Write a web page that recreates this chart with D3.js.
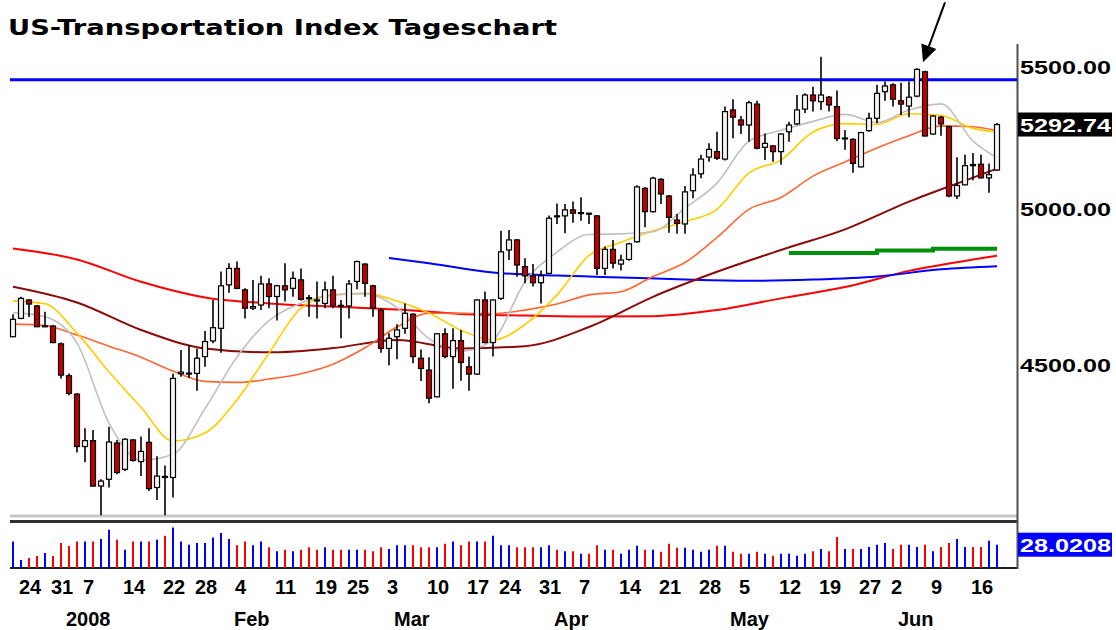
<!DOCTYPE html>
<html><head><meta charset="utf-8">
<script src="https://cdn.jsdelivr.net/npm/d3@7"></script>
<style>body{margin:0;background:#fff}svg{display:block}</style>
</head><body><svg id="c" width="1116" height="630"></svg>
<script>
const title = "US-Transportation Index Tageschart";
const dates = [
"2007-12-21","2007-12-24","2007-12-26","2007-12-27","2007-12-28","2007-12-31",
"2008-01-02","2008-01-03","2008-01-04","2008-01-07","2008-01-08","2008-01-09","2008-01-10","2008-01-11","2008-01-14","2008-01-15","2008-01-16","2008-01-17","2008-01-18","2008-01-22","2008-01-23","2008-01-24","2008-01-25","2008-01-28","2008-01-29","2008-01-30","2008-01-31",
"2008-02-01","2008-02-04","2008-02-05","2008-02-06","2008-02-07","2008-02-08","2008-02-11","2008-02-12","2008-02-13","2008-02-14","2008-02-15","2008-02-19","2008-02-20","2008-02-21","2008-02-22","2008-02-25","2008-02-26","2008-02-27","2008-02-28","2008-02-29",
"2008-03-03","2008-03-04","2008-03-05","2008-03-06","2008-03-07","2008-03-10","2008-03-11","2008-03-12","2008-03-13","2008-03-14","2008-03-17","2008-03-18","2008-03-19","2008-03-20","2008-03-24","2008-03-25","2008-03-26","2008-03-27","2008-03-28","2008-03-31",
"2008-04-01","2008-04-02","2008-04-03","2008-04-04","2008-04-07","2008-04-08","2008-04-09","2008-04-10","2008-04-11","2008-04-14","2008-04-15","2008-04-16","2008-04-17","2008-04-18","2008-04-21","2008-04-22","2008-04-23","2008-04-24","2008-04-25","2008-04-28","2008-04-29","2008-04-30",
"2008-05-01","2008-05-02","2008-05-05","2008-05-06","2008-05-07","2008-05-08","2008-05-09","2008-05-12","2008-05-13","2008-05-14","2008-05-15","2008-05-16","2008-05-19","2008-05-20","2008-05-21","2008-05-22","2008-05-23","2008-05-27","2008-05-28","2008-05-29","2008-05-30",
"2008-06-02","2008-06-03","2008-06-04","2008-06-05","2008-06-06","2008-06-09","2008-06-10","2008-06-11","2008-06-12","2008-06-13","2008-06-16","2008-06-17","2008-06-18","2008-06-19"];

const open = [4588,4645,4703,4684,4619,4621,4566,4469,4414,4261, 4278,4149,4168,4271,4196,4280,4218,4273,4145,4176,
 4173,4475,4474,4476,4527,4575,4614,4751,4804,4735, 4677,4687,4754,4714,4748,4740,4767,4710,4703,4692,
 4735,4686,4684,4762,4818,4748,4671,4552,4588,4614, 4658,4522,4486,4406,4597,4527,4576,4496,4474,4703,
 4570,4708,4864,4897,4810,4780,4758,4788,4977,4977, 4997,4986,4986,4977,4804,4866,4818,4833,4891,5070,
 4991,5101,5044,4963,4950,5062,5120,5178,5197,5171, 5345,5309,5291,5366,5212,5217,5197,5267,5295,5348,
 5399,5375,5391,5357,5244,5240,5144,5271,5315,5411, 5436,5378,5359,5395,5484,5259,5319,5285,5044,5082,
 5152,5153,5106,5133];
const high = [4658,4713,4706,4687,4666,4624,4570,4476,4417,4314, 4309,4168,4318,4280,4285,4282,4290,4314,4233,4207,
 4476,4547,4562,4552,4606,4703,4794,4821,4826,4740, 4767,4780,4772,4751,4821,4794,4804,4719,4762,4762,
 4780,4703,4767,4830,4821,4751,4677,4599,4627,4692, 4661,4549,4525,4599,4614,4614,4609,4527,4705,4730,
 4705,4927,4930,4900,4837,4818,4797,4978,5019,5017, 5025,5040,4987,4980,4875,4897,4848,4888,5081,5075,
 5110,5105,5047,4983,5078,5139,5186,5226,5267,5357, 5384,5323,5378,5378,5261,5220,5261,5303,5399,5405,
 5429,5540,5395,5415,5273,5244,5267,5335,5436,5448, 5442,5444,5448,5497,5488,5327,5323,5288,5177,5186,
 5192,5186,5156,5298];
const low = [4586,4642,4649,4618,4617,4568,4461,4411,4244,4216, 4148,4068,4145,4182,4191,4218,4177,4135,4110,4068,
 4117,4466,4462,4424,4496,4568,4539,4726,4737,4645, 4671,4671,4677,4638,4698,4713,4701,4650,4645,4677,
 4677,4583,4645,4737,4713,4650,4539,4501,4519,4597, 4507,4453,4387,4405,4522,4430,4454,4424,4471,4568,
 4527,4703,4831,4777,4756,4746,4692,4786,4950,4919, 4954,4961,4950,4783,4783,4804,4797,4829,4888,4939,
 4988,5017,4921,4917,4917,5036,5105,5162,5168,5166, 5244,5259,5232,5205,5168,5162,5151,5232,5291,5334,
 5339,5345,5339,5233,5204,5124,5142,5267,5297,5378, 5357,5327,5319,5391,5250,5256,5253,5040,5034,5081,
 5098,5104,5055,5130];
const close = [4642,4708,4690,4619,4622,4570,4471,4416,4261,4278, 4149,4163,4274,4187,4282,4221,4247,4142,4177,4173,
 4461,4480,4477,4522,4573,4616,4748,4804,4740,4677, 4682,4754,4714,4748,4735,4772,4705,4708,4701,4735,
 4684,4684,4754,4826,4756,4677,4552,4583,4609,4661, 4527,4491,4402,4597,4527,4576,4509,4474,4703,4570,
 4703,4858,4897,4815,4780,4758,4780,4969,4974,4997, 4986,4988,4985,4804,4866,4821,4831,4884,5075,4991,
 5105,5051,4972,4952,5058,5116,5171,5205,5174,5339, 5319,5291,5371,5209,5226,5197,5259,5291,5345,5399,
 5378,5399,5363,5243,5245,5156,5264,5315,5405,5432, 5384,5366,5391,5493,5252,5323,5295,5044,5080,5148,
 5148,5106,5117,5292.74];
const volume = [32,9.6,12,14.4,18,14.4,30,26.4,32,32, 32,34.8,46,34,22,32,32,32,34,38.8,
 48.8,32,28,30,30,36.8,42,34.8,27.2,32, 27.2,32,24.8,20,22,20,22,24.8,22,24.8,
 22,22,22,22,22,20,24.8,22.8,27.2,27.2, 27.2,24.8,24.8,24.8,29.2,32,27.2,32,32,32,
 38.8,27.2,27.2,24.8,24.8,24.8,24.8,27.2,22,20, 20,17.2,17.2,27.2,22,22,17.2,22,26.8,22,
 22,19.6,29.2,24.4,24.4,22,19.6,22,26.8,26.8, 19.6,17.2,17.2,19.6,17.2,14.8,17.2,17.2,14.8,17.2,
 20,22.8,20,37.2,22.8,22.8,22.8,25.2,28,30, 22.8,28,28,25.2,28,20,25.2,30,34.8,25.2,
 25.2,25.2,32.8,28.0208];

const fastIdx = [0,4,8,12,16,20,24,28,32,36,40,44,48,52,56,60,64,68,72,76,80,84,88,92,96,100,104,108,112,116,120,123];
const maGray   = [4663,4650,4568,4329,4222,4239,4371,4526,4638,4693,4719,4723,4679,4582,4543,4578,4761,4857,4915,4917,4924,5003,5088,5234,5272,5304,5329,5300,5345,5367,5234,5175];
const maYellow = [4700,4691,4599,4481,4375,4277,4300,4397,4538,4677,4719,4724,4700,4662,4608,4578,4626,4719,4846,4889,4927,4958,4999,5123,5168,5266,5296,5293,5331,5325,5279,5266];
const maOrange = [4627,4623,4593,4559,4525,4483,4452,4449,4459,4475,4504,4554,4618,4661,4661,4660,4671,4690,4719,4729,4778,4823,4905,4999,5039,5112,5161,5210,5253,5288,5285,5271];
const slowIdx = [0,8,16,24,32,40,48,56,64,72,80,88,96,104,112,120,123];
const maMaroon = [4745,4695,4609,4552,4540,4553,4578,4552,4559,4618,4713,4793,4864,4932,5025,5107,5138];
const maRed    = [4869,4833,4761,4711,4692,4682,4673,4659,4654,4651,4652,4671,4708,4744,4796,4833,4845];
const blueIdx  = [47,52,60,68,76,84,92,100,108,116,123];
const maBlue   = [4838,4821,4791,4781,4775,4768,4764,4768,4778,4801,4811];
const greenIdx = [97,108,115,123];
const maGreen  = [4854,4862,4868,4868];
const resistance = 5455;
const arrowBar = 113;

const priceTicks = [5500, 5000, 4500];
const weekTicks = ["2007-12-24","2007-12-31","2008-01-07","2008-01-14","2008-01-22","2008-01-28","2008-02-04","2008-02-11","2008-02-19","2008-02-25","2008-03-03","2008-03-10","2008-03-17","2008-03-24","2008-03-31","2008-04-07","2008-04-14","2008-04-21","2008-04-28","2008-05-05","2008-05-12","2008-05-19","2008-05-27","2008-06-02","2008-06-09","2008-06-16"];
const monthTickDates = ["2008-01-02","2008-02-01","2008-03-03","2008-04-01","2008-05-01","2008-06-02"];
const monthTickLabels = ["2008","Feb","Mar","Apr","May","Jun"];

const svg = d3.select("#c");
const x = d3.scalePoint().domain(dates).range([13, 997]);
const y = d3.scaleLog().domain([4063.5, 5572.6]).range([517, 48]);
const yv = d3.scaleLinear().domain([0, 55.3]).range([568, 522]);

svg.append("rect").attr("width",1116).attr("height",630).attr("fill","#ffffff");

// panel frame
svg.append("rect").attr("x",10).attr("y",514.5).attr("width",1007).attr("height",3).attr("fill","#c8c8c8");
svg.append("rect").attr("x",10).attr("y",520).attr("width",1008).attr("height",3).attr("fill","#303030");
svg.append("rect").attr("x",10).attr("y",567).attr("width",1008).attr("height",2).attr("fill","#202020");
svg.append("line").attr("x1",1017.5).attr("x2",1017.5).attr("y1",44).attr("y2",569).attr("stroke","#505050").attr("stroke-width",2);

// moving averages
function maLine(idx, vals, color, w, curve) {
  const pts = idx.map((d,k)=>({i:d, v:vals[k]}));
  svg.append("path").datum(pts)
    .attr("fill","none").attr("stroke",color).attr("stroke-width",w)
    .attr("d", d3.line().x(d=>x(dates[d.i])).y(d=>y(d.v)).curve(curve || d3.curveMonotoneX));
}
maLine(slowIdx, maRed, "#ff0000", 2);
maLine(blueIdx, maBlue, "#0000ff", 2);
maLine(slowIdx, maMaroon, "#8b0a0a", 2);
maLine(fastIdx, maOrange, "#ff6633", 1.6);
maLine(fastIdx, maYellow, "#ffcc00", 1.6);
maLine(fastIdx, maGray, "#c0c0c0", 1.6);
maLine(greenIdx, maGreen, "#00900a", 4, d3.curveStepAfter);

// resistance line
svg.append("line").attr("x1",10).attr("x2",1017).attr("y1",y(resistance)).attr("y2",y(resistance))
  .attr("stroke","#0000ff").attr("stroke-width",3);

// candles
const bars = dates.map((d,i)=>({d, o:open[i], h:high[i], l:low[i], c:close[i], v:volume[i]}));
const g = svg.append("g");
g.selectAll("line.w").data(bars).enter().append("line")
  .attr("x1",b=>x(b.d)).attr("x2",b=>x(b.d))
  .attr("y1",b=>y(b.h)).attr("y2",b=>y(b.l))
  .attr("stroke","#000").attr("stroke-width",1.6);
g.selectAll("rect.b").data(bars).enter().append("rect")
  .attr("x",b=>x(b.d)-2.5).attr("width",5)
  .attr("y",b=>y(Math.max(b.o,b.c)))
  .attr("height",b=>Math.max(1, Math.abs(y(b.o)-y(b.c))))
  .attr("fill",b=>b.c>=b.o ? "#f4f4f4" : "#c00000")
  .attr("stroke","#000").attr("stroke-width",1.2);

// volume
svg.append("g").selectAll("line").data(bars).enter().append("line")
  .attr("x1",b=>x(b.d)).attr("x2",b=>x(b.d))
  .attr("y1",yv(0)).attr("y2",b=>yv(b.v))
  .attr("stroke",b=>b.c>=b.o ? "#0000ff" : "#ff0000").attr("stroke-width",2);

// arrow
const tip = [x(dates[arrowBar])+6, y(high[arrowBar])-6];
const tail = [tip[0]+22, tip[1]-60];
const L = Math.hypot(tail[0]-tip[0], tail[1]-tip[1]);
const ux = (tip[0]-tail[0])/L, uy = (tip[1]-tail[1])/L;
const bc = [tip[0]-17*ux, tip[1]-17*uy];
svg.append("line").attr("x1",tail[0]).attr("y1",tail[1]).attr("x2",bc[0]).attr("y2",bc[1]).attr("stroke","#000").attr("stroke-width",2);
svg.append("path").attr("fill","#000")
  .attr("d",`M${tip[0]},${tip[1]}L${bc[0]+8*(-uy)},${bc[1]+8*ux}L${bc[0]-8*(-uy)},${bc[1]-8*ux}Z`);

// title
svg.append("text").attr("x",8).attr("y",35)
  .attr("font-family","DejaVu Sans").attr("font-weight","bold").attr("font-size",22)
  .attr("textLength",549).attr("lengthAdjust","spacingAndGlyphs").attr("fill","#000").text(title);

// right axis labels
const fmt = d3.format(".2f");
priceTicks.forEach(v=>{
  svg.append("text").attr("x",1020).attr("y",y(v)+7)
    .attr("font-family","Liberation Sans").attr("font-weight","bold").attr("font-size",19)
    .attr("textLength",91).attr("lengthAdjust","spacingAndGlyphs").attr("fill","#000").text(fmt(v));
});
const lastC = close[close.length-1];
svg.append("rect").attr("x",1018).attr("y",y(lastC)-12).attr("width",94).attr("height",24).attr("fill","#000");
svg.append("text").attr("x",1020).attr("y",y(lastC)+7)
  .attr("font-family","Liberation Sans").attr("font-weight","bold").attr("font-size",19)
  .attr("textLength",91).attr("lengthAdjust","spacingAndGlyphs").attr("fill","#fff").text(fmt(lastC));
const lastV = volume[volume.length-1];
svg.append("rect").attr("x",1018).attr("y",yv(lastV)-12).attr("width",94).attr("height",24).attr("fill","#0000ff");
svg.append("text").attr("x",1020).attr("y",yv(lastV)+7)
  .attr("font-family","Liberation Sans").attr("font-weight","bold").attr("font-size",19)
  .attr("textLength",91).attr("lengthAdjust","spacingAndGlyphs").attr("fill","#fff").text(d3.format(".4f")(lastV));

// bottom axis
weekTicks.forEach(d=>{
  svg.append("text").attr("x",x(d)-2).attr("y",594)
    .attr("font-family","Liberation Sans").attr("font-weight","bold").attr("font-size",20)
    .attr("fill","#000").text(+d.slice(8));
});
monthTickDates.forEach((d,k)=>{
  svg.append("text").attr("x",x(d)+5).attr("y",626)
    .attr("font-family","Liberation Sans").attr("font-weight","bold").attr("font-size",20)
    .attr("fill","#000").text(monthTickLabels[k]);
});
</script></body></html>
